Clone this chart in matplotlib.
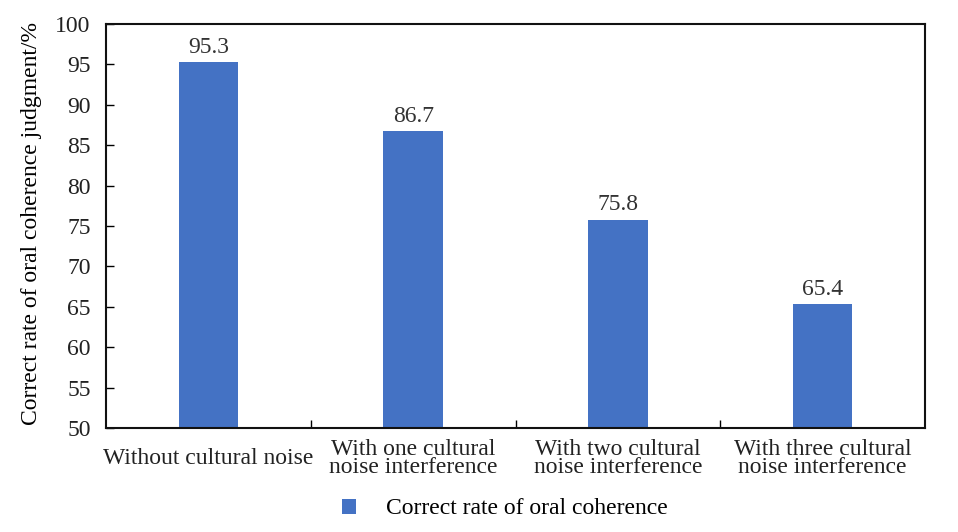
import numpy as np
import matplotlib
matplotlib.use('Agg')
import matplotlib.pyplot as plt
from matplotlib.patches import Patch

# data
categories = ['Without cultural noise',
              'With one cultural\nnoise interference',
              'With two cultural\nnoise interference',
              'With three cultural\nnoise interference']
rates = [95.3, 86.7, 75.8, 65.4]
series_name = 'Correct rate of oral coherence'
y_ticks = list(range(50, 101, 5))

plt.rcParams['font.family'] = ['Liberation Serif', 'DejaVu Serif']
fs = 17

fig = plt.figure(figsize=(9.58, 5.32), dpi=100)
ax = fig.add_axes([106 / 958, 1 - 428 / 532, (925 - 106) / 958, (428 - 24) / 532])

x = np.arange(len(categories))
bar_color = '#4472C4'
bars = ax.bar(x, rates, width=0.29, color=bar_color, zorder=2)

for b, v in zip(bars, rates):
    ax.text(b.get_x() + b.get_width() / 2, v + 0.5, f'{v:.1f}',
            ha='center', va='bottom', color='#333333', fontsize=fs)

ax.set_xlim(-0.5, len(categories) - 0.5)
ax.set_ylim(50, 100)
ax.set_yticks(y_ticks)
ax.tick_params(axis='y', direction='in', length=6, width=1, pad=11,
               labelcolor='#222222', labelsize=fs)

# ticks at the category boundaries, labels at the centres
ax.set_xticks(np.arange(0.5, len(categories) - 0.5, 1.0))
ax.set_xticklabels([])
ax.tick_params(axis='x', which='major', direction='in', length=6, width=1)
ax.set_xticks(x, minor=True)
ax.set_xticklabels(categories, minor=True, va='center', linespacing=0.78)
ax.tick_params(axis='x', which='minor', length=0, pad=22, labelcolor='#222222',
               labelsize=fs)

for s in ax.spines.values():
    s.set_linewidth(1.5)
    s.set_color('#111111')

ax.set_ylabel('Correct rate of oral coherence judgment/%', fontsize=fs)
ax.yaxis.set_label_coords(-0.078, 0.505)

handle = Patch(facecolor=bar_color, edgecolor='none')
fig.legend([handle], [series_name], loc='center', bbox_to_anchor=(0.527, 1 - 509 / 532),
           frameon=False, handlelength=0.6, handleheight=0.6, handletextpad=1.3,
           fontsize=fs)

fig.savefig('out.png', dpi=100)
